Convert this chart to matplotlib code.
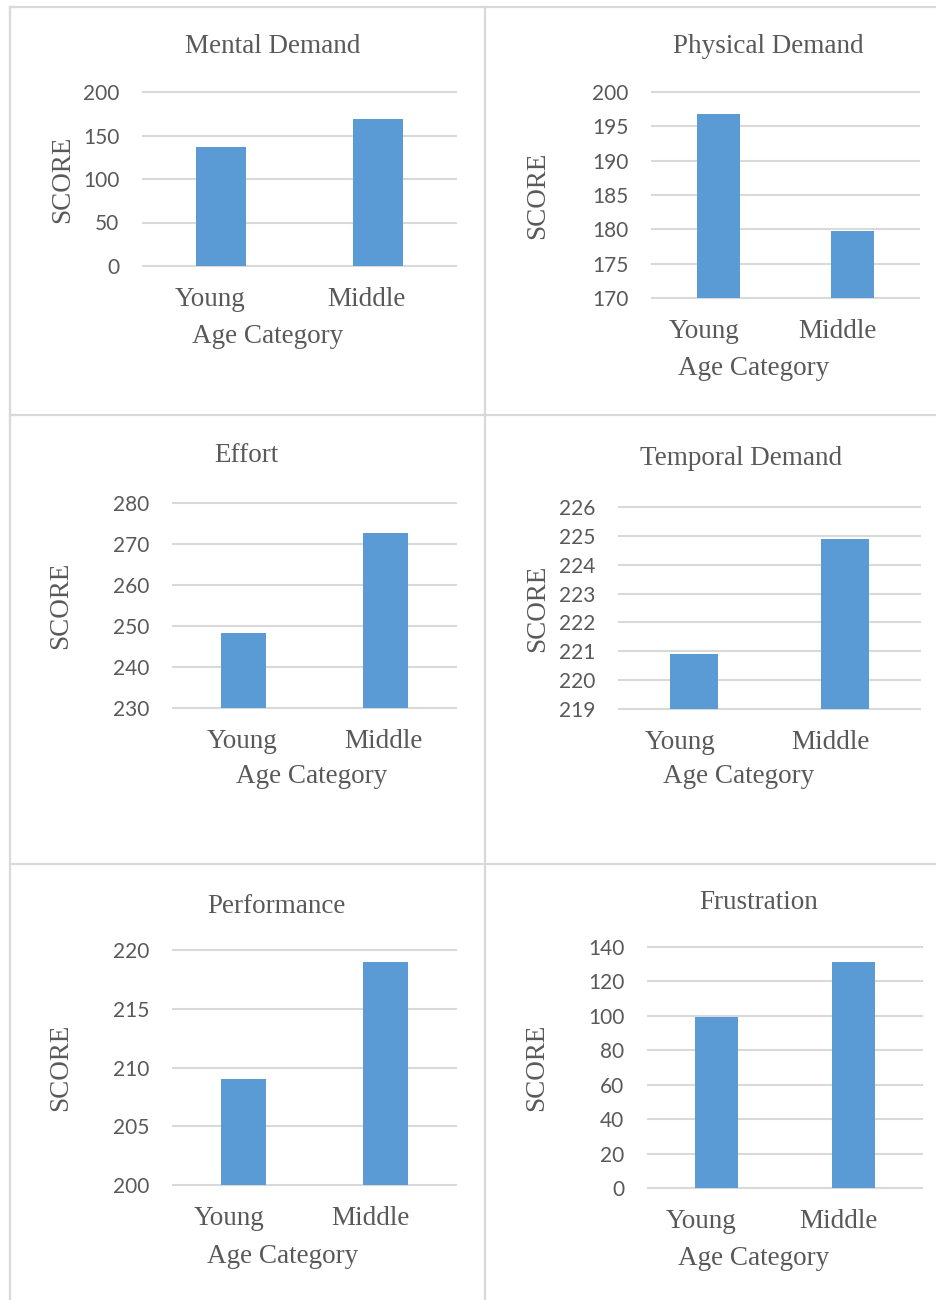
import matplotlib
matplotlib.use("Agg")
import matplotlib.pyplot as plt
from matplotlib.lines import Line2D
from matplotlib.transforms import ScaledTranslation

# NASA-TLX scores by age group
categories = ["Young", "Middle"]
titles = ["Mental Demand", "Physical Demand", "Effort",
          "Temporal Demand", "Performance", "Frustration"]
mental = [137, 169]
physical = [196.8, 179.7]
effort = [248.2, 272.6]
temporal = [220.9, 224.9]
performance = [209, 219]
frustration = [99.3, 131]
values = [mental, physical, effort, temporal, performance, frustration]

# y-axis ranges (min, max, step), Excel style
y_ranges = [(0, 200, 50), (170, 200, 5), (230, 280, 10),
            (219, 226, 1), (200, 220, 5), (0, 140, 20)]

W, H = 937, 1300
BAR = "#5b9bd5"
GRID = "#d9d9d9"
TXT = "#595959"
SERIF = "Liberation Serif"
SANS = "Lato"

# plot areas in pixels: x0, x1, y_top, y_bottom
boxes = [(143, 456, 92, 266), (652, 919, 92, 298),
         (173, 456, 503, 708), (619, 920, 507, 709),
         (173, 456, 950, 1185), (648, 922, 947, 1188)]
# title centre / baseline, axis title centre / baseline,
# ylabel centre x, tick label shift
title_pos = [(273, 53), (768, 53), (246, 462), (741, 465), (276, 913), (759, 909)]
xlabel_pos = [(268, 343), (754, 375), (312, 783), (739, 783), (283, 1263), (754, 1265)]
ylabel_x = [63, 538, 61, 538, 61, 537]
tick_shift = [-11, -15, -2, -14, -15, -15]

fig = plt.figure(figsize=(W / 100, H / 100), dpi=100)

# table cell borders
def fline(xs, ys):
    fig.add_artist(Line2D([x / W for x in xs], [1 - y / H for y in ys],
                          color=GRID, lw=1.6, transform=fig.transFigure))

fline([10, 937], [7, 7])
fline([10, 10], [7, 1300])
fline([485, 485], [7, 1300])
fline([10, 937], [415, 415])
fline([10, 937], [864, 864])


def ftext(x, y, s, **kw):
    fig.text(x / W, 1 - y / H, s, color=TXT, family=SERIF, fontsize=19.5,
             va="baseline", ha="center", **kw)


for i in range(6):
    x0, x1, yt, yb = boxes[i]
    ax = fig.add_axes([x0 / W, 1 - yb / H, (x1 - x0) / W, (yb - yt) / H])
    lo, hi, step = y_ranges[i]
    ax.bar(range(len(categories)), values[i], width=0.32, color=BAR, zorder=3)
    ax.set_xlim(-0.5, 1.5)
    ax.set_ylim(lo, hi)
    ticks = list(range(lo, hi + 1, step))
    ax.set_yticks(ticks)
    ax.set_yticklabels([str(t) for t in ticks], fontfamily=SANS,
                       fontsize=15, color=TXT)
    ax.set_xticks(range(len(categories)))
    ax.set_xticklabels(categories, fontfamily=SERIF, fontsize=19.5, color=TXT)
    ax.tick_params(axis="both", length=0)
    ax.tick_params(axis="y", pad=17)
    ax.tick_params(axis="x", pad=15)
    shift = ScaledTranslation(tick_shift[i] / 100, 0, fig.dpi_scale_trans)
    for lab in ax.get_xticklabels():
        lab.set_transform(lab.get_transform() + shift)
    for s in ax.spines.values():
        s.set_visible(False)
    ax.set_axisbelow(True)
    ax.yaxis.grid(True, color=GRID, lw=1.5)
    for gl in ax.get_ygridlines():
        gl.set_clip_on(False)

    ax.set_ylabel("SCORE", fontfamily=SERIF, fontsize=19.5, color=TXT)
    ax.yaxis.set_label_coords((ylabel_x[i] - x0) / (x1 - x0), 0.5)
    ax.yaxis.label.set_va("center")

    ftext(*title_pos[i], titles[i])
    ftext(*xlabel_pos[i], "Age Category")

fig.savefig("out.png", dpi=100)
